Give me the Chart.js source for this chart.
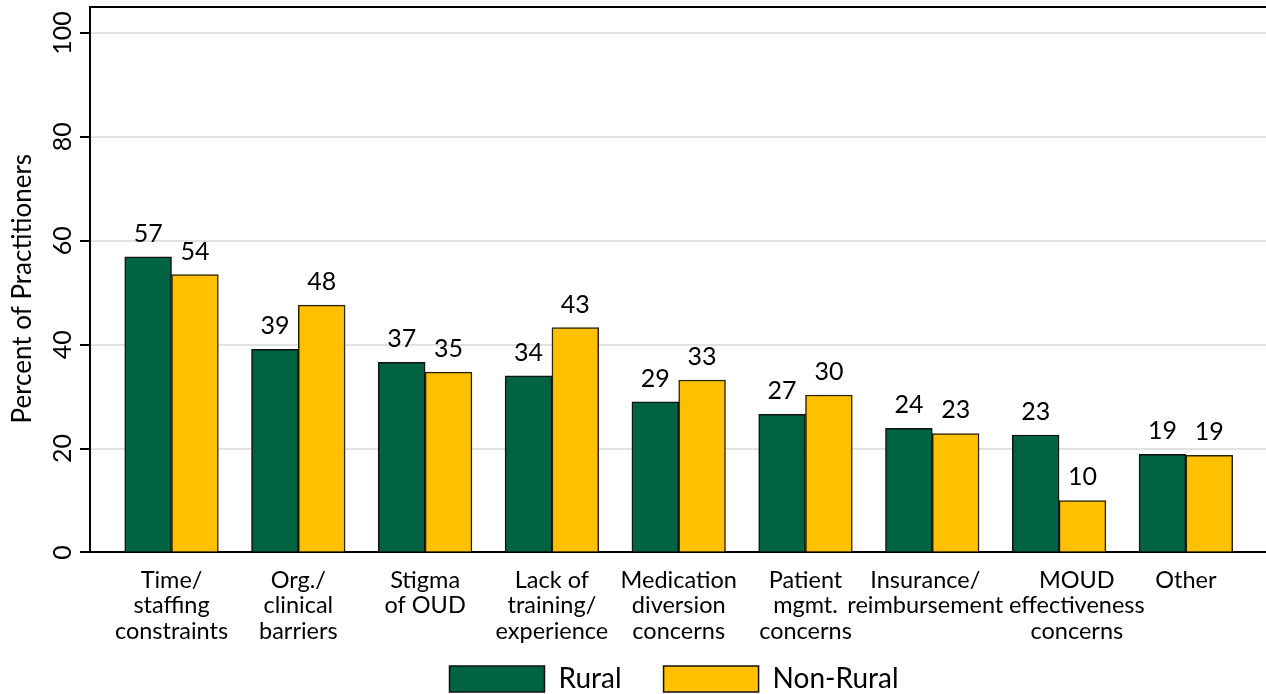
<!DOCTYPE html>
<html><head><meta charset="utf-8">
<script src="https://cdn.jsdelivr.net/npm/chart.js@4.4.0/dist/chart.umd.min.js"></script>
<style>html,body{margin:0;padding:0;background:#fff;}canvas{display:block;}</style>
</head><body>
<canvas id="c" width="1266" height="694"></canvas>
<script>
const categories = [["Time/","staffing","constraints"],["Org./","clinical","barriers"],["Stigma","of OUD"],["Lack of","training/","experience"],["Medication","diversion","concerns"],["Patient","mgmt.","concerns"],["Insurance/","reimbursement"],["MOUD","effectiveness","concerns"],["Other"]];
const rural = [56.9, 39.1, 36.6, 34.0, 29.0, 26.6, 23.9, 22.6, 18.9];
const nonRural = [53.5, 47.6, 34.7, 43.3, 33.2, 30.3, 22.9, 10.0, 18.7];
const seriesNames = ["Rural", "Non-Rural"];
const yTicks = [0, 20, 40, 60, 80, 100];
const yTitle = "Percent of Practitioners";
// small horizontal nudges (in category units) of two crowded axis labels
const labelNudge = [0, 0, 0, 0, 0, 0, -0.055, 0.14, 0];

const FONT = "Lato";
const toPts = arr => arr.map((v, i) => ({x: i, y: v}));

const textPlugin = {
  id: 'customText',
  afterLayout(chart) {
    const lg = chart.legend;
    if (lg) { lg.top -= 28; lg.bottom -= 28; lg.left -= 4; lg.right -= 4; }
  },
  afterDatasetsDraw(chart) {
    const ctx = chart.ctx;
    ctx.save();
    ctx.fillStyle = '#000';
    ctx.font = `25px ${FONT}`;
    ctx.textAlign = 'center';
    ctx.textBaseline = 'alphabetic';
    chart.data.datasets.forEach((ds, di) => {
      chart.getDatasetMeta(di).data.forEach((bar, i) => {
        ctx.fillText(String(Math.round(ds.data[i].y)), bar.x, bar.y - 15);
      });
    });
    ctx.restore();
  },
  afterDraw(chart) {
    const ctx = chart.ctx;
    const y = chart.scales.y;
    ctx.save();
    ctx.fillStyle = '#000';
    ctx.font = `25px ${FONT}`;
    ctx.textAlign = 'center';
    ctx.textBaseline = 'middle';
    yTicks.forEach(v => {
      ctx.save();
      ctx.translate(63, y.getPixelForValue(v));
      ctx.rotate(-Math.PI / 2);
      ctx.fillText(String(v), 0, 0);
      ctx.restore();
    });
    ctx.font = `26px ${FONT}`;
    ctx.save();
    ctx.translate(23, y.getPixelForValue(50) - 4);
    ctx.rotate(-Math.PI / 2);
    ctx.fillText(yTitle, 0, 0);
    ctx.restore();
    ctx.restore();
  }
};

new Chart(document.getElementById('c'), {
  type: 'bar',
  data: {
    datasets: [
      {label: seriesNames[0], data: toPts(rural), backgroundColor: '#006341', borderColor: '#111', borderWidth: 1.5, borderSkipped: 'bottom'},
      {label: seriesNames[1], data: toPts(nonRural), backgroundColor: '#FFC000', borderColor: '#2a2200', borderWidth: 1.5, borderSkipped: 'bottom'}
    ]
  },
  options: {
    responsive: false,
    animation: false,
    devicePixelRatio: 1,
    layout: {padding: {left: 80, top: -1, right: 0, bottom: -37}},
    datasets: {bar: {barThickness: 46.8}},
    plugins: {
      tooltip: {enabled: false},
      legend: {
        position: 'bottom',
        fullSize: false,
        labels: {
          boxWidth: 95, boxHeight: 26, padding: 42,
          color: '#000', font: {family: FONT, size: 28},
          generateLabels(chart) {
            return chart.data.datasets.map((ds, i) => ({
              text: ds.label, fillStyle: ds.backgroundColor, strokeStyle: '#111',
              lineWidth: 1.5, datasetIndex: i, hidden: false, fontColor: '#000'
            }));
          }
        }
      }
    },
    scales: {
      x: {
        type: 'linear', min: -0.643, max: 8.632, offset: false,
        grid: {display: false},
        border: {display: true, color: '#000', width: 2},
        afterBuildTicks: s => { s.ticks = categories.map((c, i) => ({value: i + labelNudge[i]})); },
        ticks: {
          autoSkip: false, maxRotation: 0, minRotation: 0, padding: 7,
          color: '#000', font: {family: FONT, size: 23.5, lineHeight: 1.086},
          callback: (v, idx) => categories[idx]
        }
      },
      x2: {
        type: 'linear', position: 'top', min: 0, max: 1, offset: false,
        grid: {display: false}, ticks: {display: false},
        border: {display: true, color: '#000', width: 2}
      },
      y: {
        min: 0, max: 105,
        afterBuildTicks: s => { s.ticks = yTicks.map(v => ({value: v})); },
        ticks: {display: false},
        grid: {color: '#e2e2e2', lineWidth: 2, tickColor: '#000', tickLength: 10, drawTicks: true},
        border: {display: true, color: '#000', width: 2}
      }
    }
  },
  plugins: [textPlugin]
});
</script>
</body></html>
